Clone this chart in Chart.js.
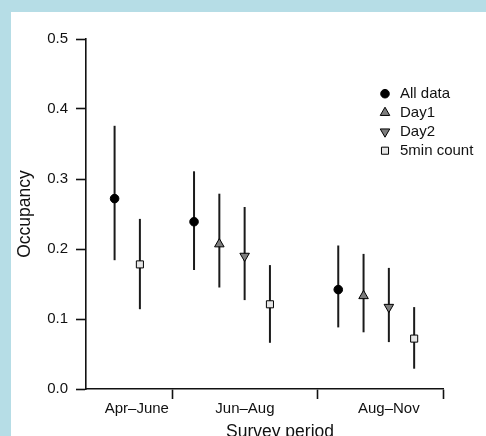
<!DOCTYPE html>
<html>
<head>
<meta charset="utf-8">
<script src="https://cdn.jsdelivr.net/npm/chart.js@4.4.1/dist/chart.umd.min.js"></script>
<style>
  html, body { margin: 0; padding: 0; width: 486px; height: 436px; overflow: hidden; background: #b6dde6; }
  #panel { position: absolute; left: 11px; top: 12px; width: 475px; height: 424px; background: #ffffff; }
  canvas { display: block; }
</style>
</head>
<body>
<div id="panel"><canvas id="c" width="475" height="424"></canvas></div>
<script>
// Survey periods and estimate series (occupancy with 95% interval)
const periods = ['Apr\u2013June', 'Jun\u2013Aug', 'Aug\u2013Nov'];
const seriesNames = ['All data', 'Day1', 'Day2', '5min count'];

const allData   = [0.272, 0.239, 0.142];
const allLo     = [0.184, 0.170, 0.088];
const allHi     = [0.376, 0.311, 0.205];

const day1      = [null, 0.207, 0.133];
const day1Lo    = [null, 0.145, 0.081];
const day1Hi    = [null, 0.279, 0.193];

const day2      = [null, 0.190, 0.117];
const day2Lo    = [null, 0.127, 0.067];
const day2Hi    = [null, 0.260, 0.173];

const min5      = [0.178, 0.121, 0.072];
const min5Lo    = [0.114, 0.066, 0.029];
const min5Hi    = [0.243, 0.177, 0.117];

const yTicks = [0.0, 0.1, 0.2, 0.3, 0.4, 0.5];

// Horizontal layout on the x axis (axis units, one unit between neighbouring marks)
const groupStart = [1.0, 4.14, 9.84];
const separators = [3.27, 9.0, 13.98];
const labelAt    = [1.88, 6.15, 11.84];
const xMin = -0.13, xMax = 13.98;

const seriesVals = [allData, day1, day2, min5];
const seriesLo   = [allLo, day1Lo, day2Lo, min5Lo];
const seriesHi   = [allHi, day1Hi, day2Hi, min5Hi];

const styles = [
  { pointStyle: 'circle',   rotation: 0,   radius: 4.3, backgroundColor: '#000000' },
  { pointStyle: 'triangle', rotation: 0,   radius: 5.5, backgroundColor: '#7d7d7d' },
  { pointStyle: 'triangle', rotation: 180, radius: 5.5, backgroundColor: '#7d7d7d' },
  { pointStyle: 'rect',     rotation: 0,   radius: 5.0, backgroundColor: '#e6e6e6' }
];

// Marks within a period sit side by side, skipping series without an estimate
const datasets = seriesNames.map((name, s) => {
  const pts = [];
  periods.forEach((p, g) => {
    if (seriesVals[s][g] === null) return;
    let slot = 0;
    for (let k = 0; k < s; k++) if (seriesVals[k][g] !== null) slot++;
    pts.push({ x: groupStart[g] + slot, y: seriesVals[s][g], lo: seriesLo[s][g], hi: seriesHi[s][g] });
  });
  return {
    label: name,
    data: pts,
    showLine: false,
    pointStyle: styles[s].pointStyle,
    rotation: styles[s].rotation,
    pointRadius: styles[s].radius,
    pointHoverRadius: styles[s].radius,
    pointBackgroundColor: styles[s].backgroundColor,
    pointBorderColor: '#000000',
    pointBorderWidth: 1
  };
});

const FONT = 'Liberation Sans, Arial, Helvetica, sans-serif';

// Vertical interval lines behind each marker
const errorBars = {
  id: 'errorBars',
  beforeDatasetsDraw(chart) {
    const { ctx, scales: { x, y } } = chart;
    ctx.save();
    ctx.strokeStyle = '#1a1a1a';
    ctx.lineWidth = 2;
    chart.data.datasets.forEach(ds => {
      ds.data.forEach(pt => {
        const px = x.getPixelForValue(pt.x);
        ctx.beginPath();
        ctx.moveTo(px, y.getPixelForValue(pt.lo));
        ctx.lineTo(px, y.getPixelForValue(pt.hi));
        ctx.stroke();
      });
    });
    ctx.restore();
  }
};

// Legend list in the upper right of the plot, plus the x axis title
const overlay = {
  id: 'overlay',
  afterDraw(chart) {
    const { ctx, chartArea } = chart;
    ctx.save();
    const mx = chartArea.right - 58;
    const tx = chartArea.right - 43;
    chart.data.datasets.forEach((ds, i) => {
      const yy = chartArea.top + 54.7 + i * 19;
      ctx.fillStyle = ds.pointBackgroundColor;
      ctx.strokeStyle = ds.pointBorderColor;
      ctx.lineWidth = ds.pointBorderWidth;
      Chart.helpers.drawPoint(ctx, {
        pointStyle: ds.pointStyle, rotation: ds.rotation,
        radius: ds.pointRadius, borderWidth: ds.pointBorderWidth
      }, mx, yy);
      ctx.fillStyle = '#111111';
      ctx.font = '15px ' + FONT;
      ctx.textAlign = 'left';
      ctx.textBaseline = 'middle';
      ctx.fillText(ds.label, tx, yy + 0.5);
    });
    ctx.fillStyle = '#111111';
    ctx.font = '17.5px ' + FONT;
    ctx.textAlign = 'center';
    ctx.textBaseline = 'middle';
    ctx.fillText('Survey period', 269, 420);
    ctx.restore();
  }
};

new Chart(document.getElementById('c'), {
  type: 'scatter',
  data: { datasets },
  plugins: [errorBars, overlay],
  options: {
    responsive: false,
    animation: false,
    events: [],
    layout: { padding: { top: 27, right: 43, bottom: 0, left: 0 } },
    plugins: { legend: { display: false }, tooltip: { enabled: false } },
    scales: {
      x: {
        type: 'linear',
        min: xMin,
        max: xMax,
        afterFit(scale) { scale.height = 47; },
        afterBuildTicks(scale) {
          scale.ticks = separators.concat(labelAt).sort((a, b) => a - b).map(v => ({ value: v }));
        },
        border: { display: true, color: '#111111', width: 1.6 },
        grid: {
          display: true,
          drawOnChartArea: false,
          drawTicks: true,
          tickLength: 10,
          tickWidth: 1.6,
          tickColor: ctx => (ctx.tick && separators.includes(ctx.tick.value)) ? '#111111' : 'rgba(0,0,0,0)'
        },
        ticks: {
          autoSkip: false,
          maxRotation: 0,
          minRotation: 0,
          padding: 1,
          color: '#111111',
          font: { family: FONT, size: 15 },
          callback: v => {
            const i = labelAt.indexOf(v);
            return i >= 0 ? periods[i] : '';
          }
        }
      },
      y: {
        type: 'linear',
        min: 0,
        max: 0.5,
        afterFit(scale) { scale.width = 75; },
        afterBuildTicks(scale) { scale.ticks = yTicks.map(v => ({ value: v })); },
        border: { display: true, color: '#111111', width: 1.6 },
        grid: {
          display: true,
          drawOnChartArea: false,
          drawTicks: true,
          tickLength: 10,
          tickWidth: 1.6,
          tickColor: '#111111'
        },
        ticks: {
          padding: 8,
          color: '#111111',
          font: { family: FONT, size: 15 },
          callback: v => Number(v).toFixed(1)
        },
        title: {
          display: true,
          text: 'Occupancy',
          color: '#111111',
          font: { family: FONT, size: 17.5 },
          padding: { top: 4, bottom: 0 }
        }
      }
    }
  }
});
</script>
</body>
</html>
